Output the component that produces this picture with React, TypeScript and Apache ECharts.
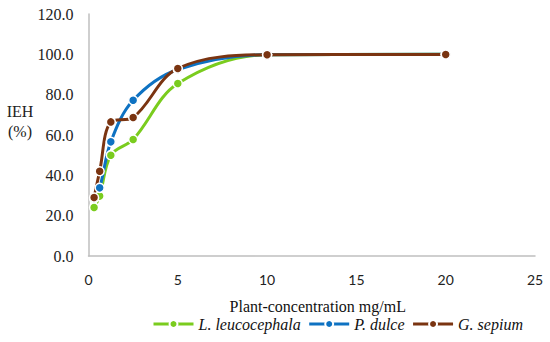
import React, { useEffect, useRef } from "react";
import * as echarts from "echarts";

const concentrations = [0.3125, 0.625, 1.25, 2.5, 5, 10, 20];
const leucocephala = [24.1, 29.7, 50.0, 57.8, 85.5, 99.8, 100.0];
const dulce = [28.5, 33.8, 56.6, 77.2, 92.5, 99.8, 100.0];
const sepium = [29.0, 42.0, 66.5, 68.7, 93.0, 99.8, 99.9];
const seriesNames = ["L. leucocephala", "P. dulce", "G. sepium"];
const colors = ["#7ACC1E", "#0E72C2", "#7A3411"];

const SERIF = "Liberation Serif";

export default function App() {
  const ref = useRef<HTMLDivElement>(null);
  useEffect(() => {
    const chart = echarts.init(ref.current!, null, { renderer: "svg" });
    const all = [leucocephala, dulce, sepium];
    chart.setOption({
      animation: false,
      grid: { left: 88.5, right: 15, top: 14, bottom: 86 },
      graphic: [
        {
          type: "text",
          x: 20,
          y: 101,
          style: {
            text: "IEH\n(%)",
            fontFamily: SERIF,
            fontSize: 16,
            fill: "#222",
            align: "center",
            verticalAlign: "top",
            lineHeight: 20,
          },
        },
      ],
      xAxis: {
        type: "value",
        min: 0,
        max: 25,
        interval: 5,
        name: "Plant-concentration mg/mL",
        nameLocation: "middle",
        nameGap: 42,
        nameTextStyle: { fontFamily: SERIF, fontSize: 16, color: "#111", padding: [0, 0, 0, 12] },
        axisLine: { lineStyle: { color: "#BFBFBF", width: 1.5 } },
        axisTick: { show: false },
        splitLine: { show: false },
        axisLabel: { fontFamily: "Lato", fontSize: 14, color: "#222", margin: 16 },
      },
      yAxis: {
        type: "value",
        min: 0,
        max: 120,
        interval: 20,
        axisLine: { show: true, lineStyle: { color: "#BFBFBF", width: 1.5 } },
        axisTick: { show: false },
        splitLine: { show: false },
        axisLabel: {
          fontFamily: SERIF,
          fontSize: 16,
          color: "#222",
          margin: 15,
          formatter: (v: number) => v.toFixed(1),
        },
      },
      legend: {
        bottom: 5,
        left: 147,
        itemWidth: 40,
        itemHeight: 10,
        itemGap: 7,
        lineStyle: { width: 3 },
        textStyle: { fontFamily: SERIF, fontStyle: "italic", fontSize: 16, color: "#111" },
        data: seriesNames,
      },
      series: seriesNames.map((name, i) => ({
        name,
        type: "line",
        smooth: 0.35,
        symbol: "circle",
        symbolSize: 9,
        color: colors[i],
        lineStyle: { width: 3, color: colors[i] },
        itemStyle: { color: colors[i], borderColor: "#fff", borderWidth: 1.5 },
        data: concentrations.map((c, j) => [c, all[i][j]]),
      })),
    });
    return () => chart.dispose();
  }, []);
  return <div ref={ref} style={{ position: "absolute", left: 0, top: 0, width: 550, height: 342 }} />;
}
